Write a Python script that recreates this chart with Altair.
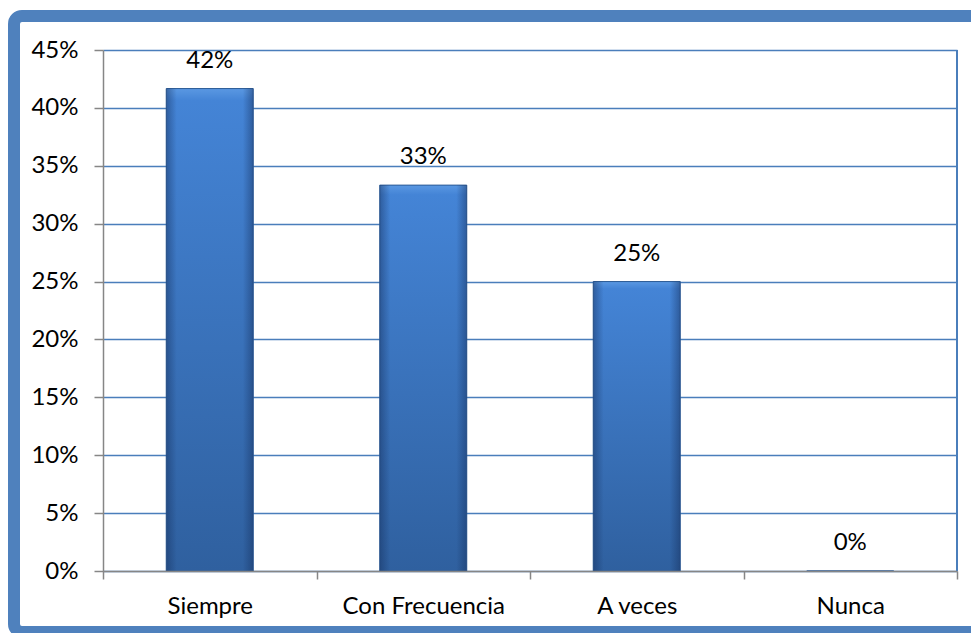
import altair as alt
import pandas as pd

categories = ["Siempre", "Con Frecuencia", "A veces", "Nunca"]
values = [0.4167, 0.3333, 0.25, 0.0]
y_ticks = [0, 0.05, 0.10, 0.15, 0.20, 0.25, 0.30, 0.35, 0.40, 0.45]

df = pd.DataFrame({"cat": categories, "val": values})

FONT = "Lato"
FS = 24
W, H = 854, 521
BAR_BAND = 0.4075

x_enc = alt.X(
    "cat:N", sort=categories, title=None,
    scale=alt.Scale(paddingInner=0, paddingOuter=0),
    axis=alt.Axis(tickBand="extent", labelAngle=0, labelFontSize=FS, labelFont=FONT,
                  labelColor="#000000", labelPadding=15, tickSize=8, tickColor="#868686",
                  domainColor="#868686", domainWidth=1.5, tickWidth=1.5, grid=False,
                  zindex=1),
)
y_enc = alt.Y(
    "val:Q", title=None,
    scale=alt.Scale(domain=[0, 0.45], nice=False),
    axis=alt.Axis(values=y_ticks, format=".0%", labelFontSize=FS, labelFont=FONT,
                  labelColor="#000000", labelPadding=16, tickSize=9, tickColor="#868686",
                  domainColor="#868686", domainWidth=1.5, tickWidth=1.5,
                  grid=True, gridColor="#4A7EBB", gridWidth=1.6),
)

frame = alt.Chart(pd.DataFrame({"a": [0]})).mark_rect(
    fill=None, filled=False, stroke="#4F81BD", strokeWidth=12, cornerRadius=8
).encode(
    x=alt.value(-89), x2=alt.value(910), y=alt.value(-34), y2=alt.value(582)
)

base = alt.Chart(df)

bars = base.mark_bar(
    width=alt.RelativeBandSize(BAR_BAND),
    color=alt.Gradient(
        gradient="linear", x1=0, x2=0, y1=0, y2=1,
        stops=[alt.GradientStop(offset=0, color="#5A98E2"),
               alt.GradientStop(offset=0.025, color="#4484D6"),
               alt.GradientStop(offset=1, color="#2F609F")],
    ),
    stroke="#2C5B96", strokeWidth=1,
).encode(x=x_enc, y=y_enc)

edges = base.mark_bar(
    width=alt.RelativeBandSize(BAR_BAND),
    color=alt.Gradient(
        gradient="linear", x1=0, x2=1, y1=0, y2=0,
        stops=[alt.GradientStop(offset=0, color="rgba(20,45,90,0.45)"),
               alt.GradientStop(offset=0.12, color="rgba(20,45,90,0)"),
               alt.GradientStop(offset=0.88, color="rgba(20,45,90,0)"),
               alt.GradientStop(offset=1, color="rgba(20,45,90,0.45)")],
    ),
).encode(x=x_enc, y=y_enc)

labels = base.mark_text(dy=-28, baseline="middle", fontSize=FS, font=FONT, color="#000000").encode(
    x=x_enc, y=y_enc, text=alt.Text("val:Q", format=".0%")
)

right_line = alt.Chart(pd.DataFrame({"a": [0]})).mark_rule(color="#4A7EBB", strokeWidth=2).encode(
    x=alt.value(W), y=alt.value(0), y2=alt.value(H)
)

chart = alt.layer(frame, bars, edges, labels, right_line).properties(
    width=W, height=H,
    autosize=alt.AutoSizeParams(type="none"),
    padding={"left": 95, "top": 42, "right": 14, "bottom": 62},
    background="white",
).configure_view(stroke=None)

chart.save("out.html", embed_options={"renderer": "svg", "actions": False})
